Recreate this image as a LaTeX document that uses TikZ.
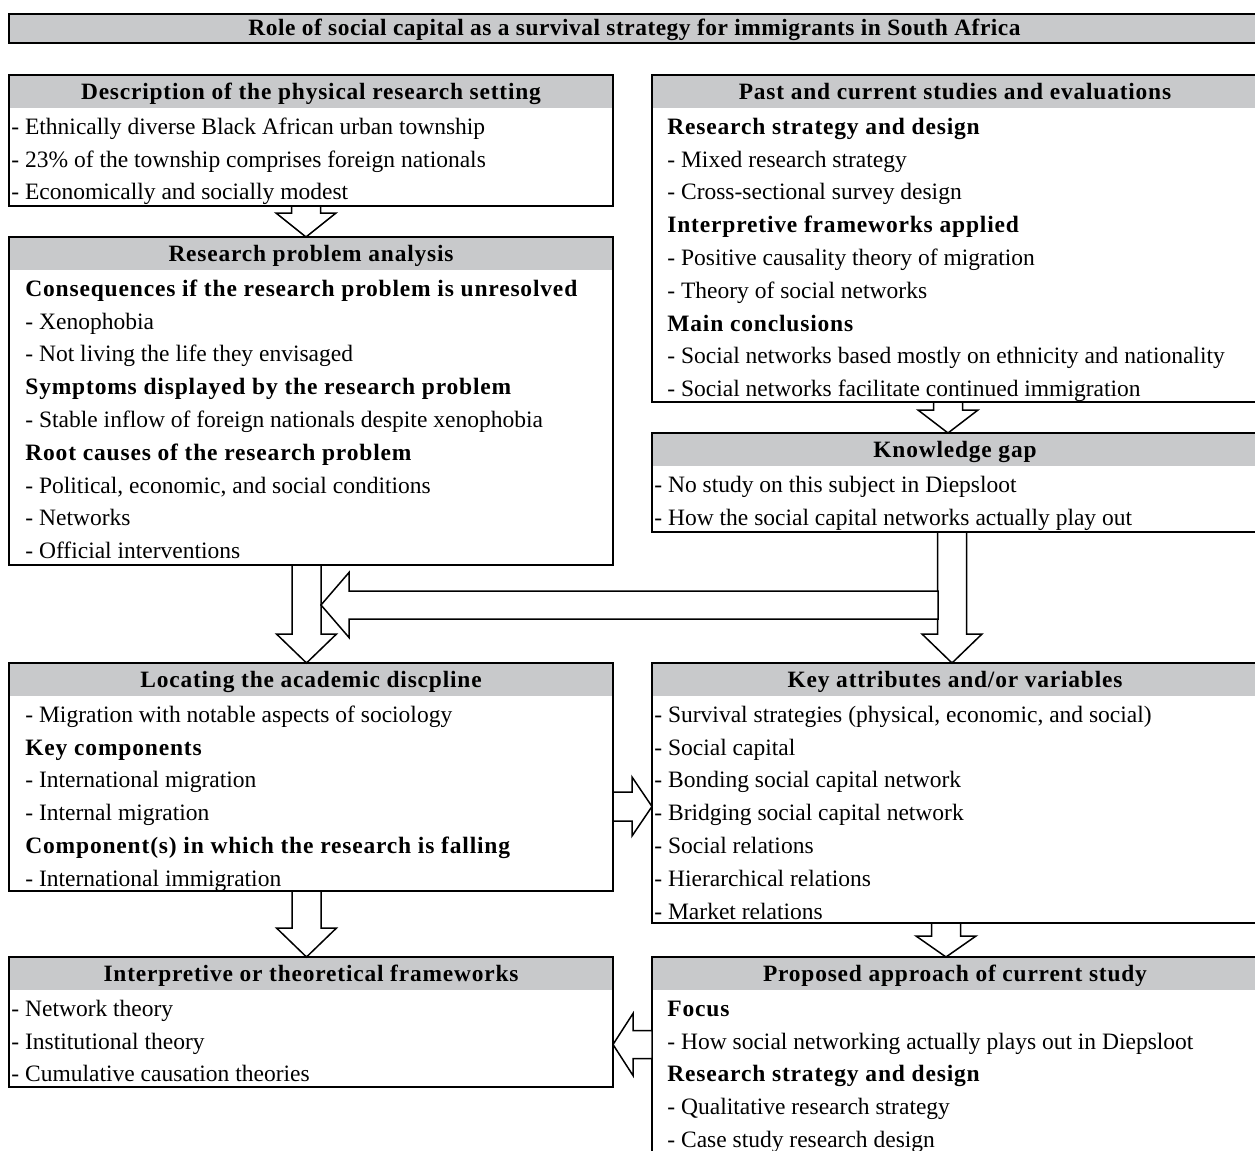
\documentclass[tikz,border=0pt]{standalone}
\usepackage{fontspec}
\setmainfont{Liberation Serif}
\newfontfamily\hfont{Liberation Serif}[LetterSpace=3.5]
\newfontfamily\tfont{Liberation Serif}[LetterSpace=2.2]
\usetikzlibrary{calc,fit}
\definecolor{hdr}{RGB}{200,201,203}
\tikzset{
  box/.style={draw, line width=1pt, fill=white, inner sep=0pt, outer sep=0pt,
    path picture={\fill[hdr] (path picture bounding box.north west) rectangle ([yshift=-16.5pt]path picture bounding box.north east);}},
  head/.style={font=\fontsize{11.7}{14}\selectfont\hfont\bfseries, inner sep=0pt, anchor=base},
  body/.style={font=\fontsize{11.75}{16.4}\selectfont, align=left, anchor=north west, inner sep=0pt},
  barrow/.style={draw, line width=0.75pt, fill=white, line join=miter},
}
\newcommand\sub[1]{{\hfont\bfseries #1}}
\newcommand\varrow[3]{%
  \draw[barrow] let \p1=#1, \p2=#2 in
    (\x1-7.25pt,\y1) -- (\x1-7.25pt,\y2+#3) -- (\x1-15pt,\y2+#3) -- (\x1,\y2)
    -- (\x1+15pt,\y2+#3) -- (\x1+7.25pt,\y2+#3) -- (\x1+7.25pt,\y1) -- cycle;}
\begin{document}
\begin{tikzpicture}[x=0.5pt,y=-0.5pt]
\useasboundingbox (0,0) rectangle (1255,1151);
\clip (0,0) rectangle (1255,1151);
\fill[white] (0,0) rectangle (1255,1151);

% title
\node[fit={(9,14) (1258,43)}, draw, line width=1pt, fill=hdr, inner sep=0pt, outer sep=0pt] (title) {};
\node[head, font=\fontsize{11.7}{14}\selectfont\tfont\bfseries] (titletext) at ($(title.north)+(1,21.5)$) {Role of social capital as a survival strategy for immigrants in South Africa};

% boxes
\node[box, fit={(9,75) (613,206)}] (b1) {};
\node[box, fit={(9,237) (613,565)}] (b2) {};
\node[box, fit={(652,75) (1258,402)}] (b3) {};
\node[box, fit={(652,433) (1258,532)}] (b4) {};
\node[box, fit={(9,663) (613,891)}] (b5) {};
\node[box, fit={(652,663) (1258,923)}] (b6) {};
\node[box, fit={(9,957) (613,1087)}] (b7) {};
\node[box, fit={(652,957) (1258,1165)}] (b8) {};

% headers
\node[head] (h1) at ($(b1.north)+(0,24.5)$) {Description of the physical research setting};
\node[head] (h2) at ($(b2.north)+(0,24.5)$) {Research problem analysis};
\node[head] (h3) at ($(b3.north)+(0,24.5)$) {Past and current studies and evaluations};
\node[head] (h4) at ($(b4.north)+(0,24.5)$) {Knowledge gap};
\node[head] (h5) at ($(b5.north)+(0,24.5)$) {Locating the academic discpline};
\node[head] (h6) at ($(b6.north)+(0,24.5)$) {Key attributes and/or variables};
\node[head] (h7) at ($(b7.north)+(0,24.5)$) {Interpretive or theoretical frameworks};
\node[head] (h8) at ($(b8.north)+(0,24.5)$) {Proposed approach of current study};

% bodies
\node[body] (t1) at ($(b1.north west)+(2,36)$) {\strut- Ethnically diverse Black African urban township\\
- 23\% of the township comprises foreign nationals\\
- Economically and socially modest};
\node[body] (t2) at ($(b2.north west)+(16,36)$) {\strut\sub{Consequences if the research problem is unresolved}\\
- Xenophobia\\
- Not living the life they envisaged\\
\sub{Symptoms displayed by the research problem}\\
- Stable inflow of foreign nationals despite xenophobia\\
\sub{Root causes of the research problem}\\
- Political, economic, and social conditions\\
- Networks\\
- Official interventions};
\node[body] (t3) at ($(b3.north west)+(15,36)$) {\strut\sub{Research strategy and design}\\
- Mixed research strategy\\
- Cross-sectional survey design\\
\sub{Interpretive frameworks applied}\\
- Positive causality theory of migration\\
- Theory of social networks\\
\sub{Main conclusions}\\
- Social networks based mostly on ethnicity and nationality\\
- Social networks facilitate continued immigration};
\node[body] (t4) at ($(b4.north west)+(2,36)$) {\strut- No study on this subject in Diepsloot\\
- How the social capital networks actually play out};
\node[body] (t5) at ($(b5.north west)+(16,36)$) {\strut- Migration with notable aspects of sociology\\
\sub{Key components}\\
- International migration\\
- Internal migration\\
\sub{Component(s) in which the research is falling}\\
- International immigration};
\node[body] (t6) at ($(b6.north west)+(2,36)$) {\strut- Survival strategies (physical, economic, and social)\\
- Social capital\\
- Bonding social capital network\\
- Bridging social capital network\\
- Social relations\\
- Hierarchical relations\\
- Market relations};
\node[body] (t7) at ($(b7.north west)+(2,36)$) {\strut- Network theory\\
- Institutional theory\\
- Cumulative causation theories};
\node[body] (t8) at ($(b8.north west)+(15,36)$) {\strut\sub{Focus}\\
- How social networking actually plays out in Diepsloot\\
\sub{Research strategy and design}\\
- Qualitative research strategy\\
- Case study research design};

% vertical block arrows
\varrow{($(b1.south)+(-5,0)$)}{(b2.north)}{12pt}
\varrow{($(b3.south)+(-7,0)$)}{(b4.north)}{11.5pt}
\varrow{($(b2.south)+(-4.5,0)$)}{(b5.north)}{14.5pt}
\varrow{($(b4.south)+(-3,0)$)}{(b6.north)}{14.5pt}
\varrow{($(b5.south)+(-4.5,0)$)}{(b7.north)}{14.5pt}
\varrow{($(b6.south)+(-9,0)$)}{(b8.north)}{10.5pt}

% horizontal arrow from knowledge-gap shaft to left shaft
\draw[barrow] let \p1=($(b4.south)+(-17,0)$), \p2=($(b2.south)+(10,40)$) in
  (\x1,\y2+7pt) -- (\x2+14pt,\y2+7pt) -- (\x2+14pt,\y2+16.25pt) -- (\x2,\y2)
  -- (\x2+14pt,\y2-16.25pt) -- (\x2+14pt,\y2-7pt) -- (\x1,\y2-7pt) -- cycle;

% right arrow b5 -> b6
\draw[barrow] let \p1=($(b5.east)+(0,29.5)$), \p2=(b6.west) in
  (\x1,\y1+7.25pt) -- (\x2-10pt,\y1+7.25pt) -- (\x2-10pt,\y1+14.75pt) -- (\x2,\y1)
  -- (\x2-10pt,\y1-14.75pt) -- (\x2-10pt,\y1-7.25pt) -- (\x1,\y1-7.25pt) -- cycle;

% left arrow b8 -> b7
\draw[barrow] let \p1=($(b8.west)+(0,-16.5)$), \p2=(b7.east) in
  (\x1,\y1+7pt) -- (\x2+10pt,\y1+7pt) -- (\x2+10pt,\y1+15.5pt) -- (\x2,\y1)
  -- (\x2+10pt,\y1-15.5pt) -- (\x2+10pt,\y1-7pt) -- (\x1,\y1-7pt) -- cycle;
\end{tikzpicture}
\end{document}
